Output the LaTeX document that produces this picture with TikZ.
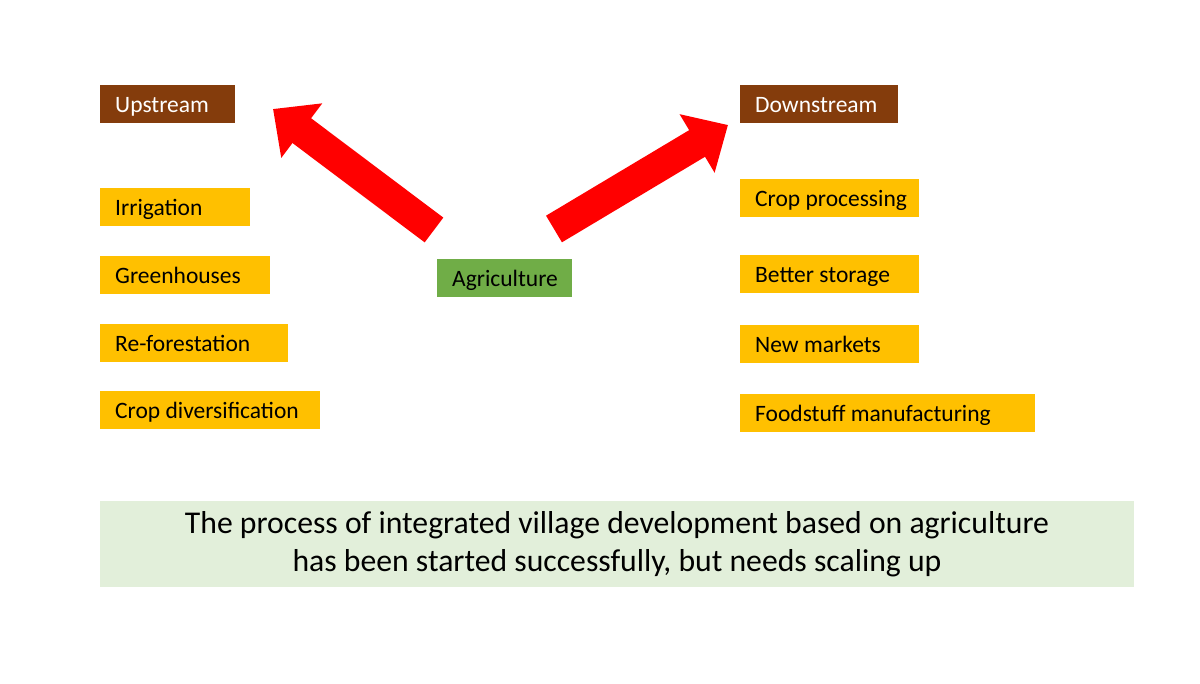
\documentclass[tikz,border=0pt]{standalone}
\usepackage{fontspec}
\setmainfont{Carlito}
\usepackage{tikz}
\usetikzlibrary{arrows.meta}
\definecolor{brownTag}{HTML}{843C0C}
\definecolor{orangeTag}{HTML}{FFC000}
\definecolor{greenTag}{HTML}{70AD47}
\definecolor{paleGreen}{HTML}{E2EFDA}
\definecolor{arrowRed}{HTML}{FF0000}

\begin{document}
\begin{tikzpicture}[x=1pt, y=-1pt,
    tag/.style={anchor=north west, minimum height=38pt, inner sep=0pt,
        align=flush left, text height=18pt, text depth=2pt,
        execute at begin node=\hspace*{15pt},
        font=\fontsize{23.5}{28}\selectfont},
    bigArrow/.style={arrowRed, line width=31pt, -{Triangle[width=66pt, length=36pt]}}]
    \useasboundingbox (0,0) rectangle (1200,684);
    % headings
    \node[tag, fill=brownTag, text=white, text width=135pt] (upstream) at (100,85) {Upstream};
    \node[tag, fill=brownTag, text=white, text width=158pt] (downstream) at (740,85) {Downstream};
    \node[tag, fill=greenTag, text width=135pt] (agri) at (437,259) {Agriculture};
    % upstream items
    \foreach \t/\y/\w [count=\i] in {Irrigation/188/150, Greenhouses/256/170,
            Re-forestation/324/188, Crop diversification/391/220}
        \node[tag, fill=orangeTag, text width=\w pt] (up\i) at (100,\y) {\t};
    % downstream items
    \foreach \t/\y/\w [count=\i] in {Crop processing/179/179, Better storage/255/179,
            New markets/325/179, Foodstuff manufacturing/394/295}
        \node[tag, fill=orangeTag, text width=\w pt] (down\i) at (740,\y) {\t};
    % arrows
    \coordinate (upTail) at (434,230);
    \coordinate (upTip) at (273,109);
    \coordinate (downTail) at (554,229);
    \coordinate (downTip) at (728,125);
    \draw[bigArrow] (upTail) -- (upTip);
    \draw[bigArrow] (downTail) -- (downTip);
    % summary
    \node[fill=paleGreen, minimum width=1034pt, minimum height=86pt, inner sep=0pt,
        align=center, font=\fontsize{31.7}{38}\selectfont] (summary) at (617,544)
        {The process of integrated village development based on agriculture\\
         has been started successfully, but needs scaling up};
\end{tikzpicture}
\end{document}
